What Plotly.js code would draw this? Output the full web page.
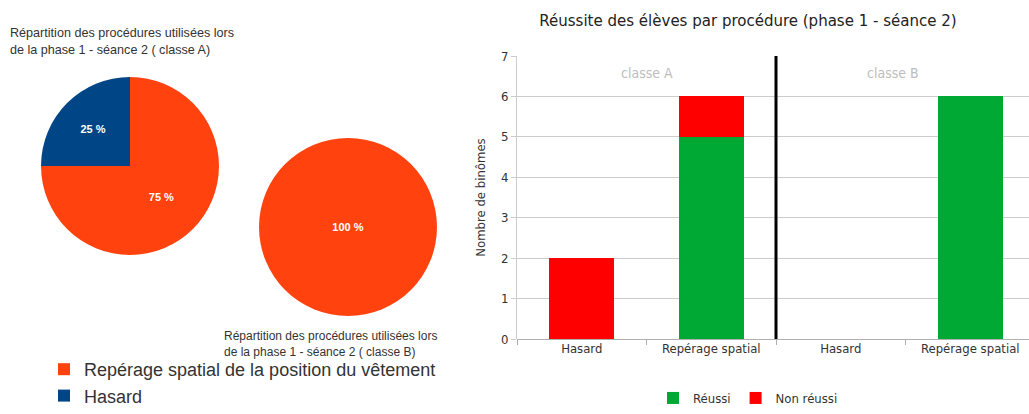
<!DOCTYPE html>
<html>
<head>
<meta charset="utf-8">
<script src="https://cdn.plot.ly/plotly-3.0.1.min.js"></script>
<style>
  html, body { margin: 0; padding: 0; background: #fff; }
  #chart { width: 1029px; height: 414px; }
</style>
</head>
<body>
<div id="chart"></div>
<script>
// ---- Data ----
const categories = ["Hasard", "Repérage spatial", "Hasard", "Repérage spatial"];
const reussi = [0, 5, 0, 6];
const nonReussi = [2, 1, 0, 0];
const classLabels = ["classe A", "classe B"];

const pieLabels = ["Repérage spatial de la position du vêtement", "Hasard"];
const pieClassA = [6, 2];
const pieClassB = [6, 0];

const pieTitleLine1 = "Répartition des procédures utilisées lors";
const pieTitleA2 = "de la phase 1 - séance 2 ( classe A)";
const pieTitleB2 = "de la phase 1 - séance 2 ( classe B)";
const barTitle = "Réussite des élèves par procédure (phase 1 - séance 2)";
const yTitle = "Nombre de binômes";
const seriesNames = ["Réussi", "Non réussi"];

// ---- Styles ----
const W = 1029, H = 414;
const narrow = "'Liberation Sans Narrow', 'DejaVu Sans Condensed', 'DejaVu Sans', sans-serif";
const sans = "'Liberation Sans', Arial, sans-serif";
const pieColors = ["#ff420e", "#004586"];
const green = "#00a933", red = "#ff0000";

function pct(vals) {
  const s = vals.reduce((a, b) => a + b, 0);
  return vals.map(v => v > 0 ? Math.round(v / s * 100) + " %" : "");
}
function px(x) { return x / W; }
function py(y) { return 1 - y / H; }

const xIdx = categories.map((_, i) => i);
const perClass = categories.length / classLabels.length;

const traces = [
  {
    type: "pie", labels: pieLabels, values: pieClassA, text: pct(pieClassA),
    textinfo: "text", textposition: "inside", sort: false, direction: "clockwise", rotation: 0,
    marker: { colors: pieColors },
    textfont: { family: sans, size: 11, color: "#ffffff", weight: "bold" },
    domain: { x: [px(41), px(219)], y: [py(255), py(77)] },
    legend: "legend2", hoverinfo: "skip"
  },
  {
    type: "pie", labels: pieLabels, values: pieClassB, text: pct(pieClassB),
    textinfo: "text", textposition: "inside", sort: false, direction: "clockwise", rotation: 0,
    marker: { colors: pieColors },
    textfont: { family: sans, size: 11, color: "#ffffff", weight: "bold" },
    domain: { x: [px(259), px(437)], y: [py(316), py(138)] },
    legend: "legend2", hoverinfo: "skip"
  },
  {
    type: "bar", name: seriesNames[0], x: xIdx, y: reussi, width: 0.5,
    marker: { color: green }, xaxis: "x", yaxis: "y", hoverinfo: "skip"
  },
  {
    type: "bar", name: seriesNames[1], x: xIdx, y: nonReussi, width: 0.5,
    marker: { color: red }, xaxis: "x", yaxis: "y", hoverinfo: "skip"
  }
];

function note(text, x, y, size) {
  return { text: text, xref: "paper", yref: "paper", x: px(x), y: py(y), xanchor: "left", yanchor: "middle",
    align: "left", showarrow: false, font: { family: sans, size: size, color: "#333333" } };
}

const annotations = [
  note(pieTitleLine1, 8, 33, 12.6),
  note(pieTitleA2, 8, 50, 12.6),
  note(pieTitleLine1, 222, 336, 12),
  note(pieTitleB2, 222, 352, 12),
  { text: classLabels[0], xref: "x", yref: "y", x: (perClass - 1) / 2, y: 6.58, showarrow: false,
    font: { family: narrow, size: 14, color: "#bdbdbd" } },
  { text: classLabels[1], xref: "x", yref: "y", x: perClass + (perClass - 1) / 2 - 0.1, y: 6.58, showarrow: false,
    font: { family: narrow, size: 14, color: "#bdbdbd" } }
];

const layout = {
  width: W, height: H,
  margin: { l: 0, r: 0, t: 0, b: 0 },
  paper_bgcolor: "#ffffff", plot_bgcolor: "#ffffff",
  barmode: "stack",
  title: { text: barTitle, xref: "paper", yref: "paper", x: px(748), xanchor: "center", y: py(20), yanchor: "middle",
    font: { family: narrow, size: 16.7, color: "#222222" } },
  xaxis: {
    domain: [px(517), 1], range: [-0.5, -0.5 + (W - 517) / 129.5], automargin: false,
    tickvals: xIdx, ticktext: categories, ticks: "", showgrid: false, zeroline: false,
    showline: false, tickfont: { family: narrow, size: 13, color: "#333333" },
    minor: { tick0: 0.5, dtick: 1, ticks: "outside", ticklen: 5, tickcolor: "#b0b0b0", showgrid: false },
    fixedrange: true
  },
  yaxis: {
    domain: [py(339), py(56)], range: [0, 7], dtick: 1, automargin: false,
    showgrid: true, gridcolor: "#cccccc", gridwidth: 1, zeroline: true, zerolinecolor: "#b0b0b0",
    showline: true, linecolor: "#cccccc", ticks: "outside", ticklen: 5, tickcolor: "#cccccc",
    tickfont: { family: narrow, size: 13, color: "#333333" },
    title: { text: yTitle, font: { family: narrow, size: 13, color: "#333333" }, standoff: 12 },
    fixedrange: true
  },
  showlegend: true,
  legend: {
    orientation: "h", x: px(748), xanchor: "center", y: py(398), yanchor: "middle",
    traceorder: "normal", font: { family: narrow, size: 13, color: "#333333" },
    itemwidth: 30, bgcolor: "rgba(0,0,0,0)"
  },
  legend2: {
    orientation: "v", x: px(44), xanchor: "left", y: 0, yanchor: "bottom",
    traceorder: "normal", font: { family: sans, size: 18, color: "#333333" },
    bgcolor: "rgba(0,0,0,0)", tracegroupgap: 0
  },
  annotations: annotations,
  shapes: [
    { type: "line", xref: "x", yref: "y", x0: perClass - 0.5, x1: perClass - 0.5, y0: -0.15, y1: 7,
      line: { color: "#000000", width: 3 } }
  ]
};

Plotly.newPlot("chart", traces, layout, { staticPlot: true, displayModeBar: false });
</script>
</body>
</html>
